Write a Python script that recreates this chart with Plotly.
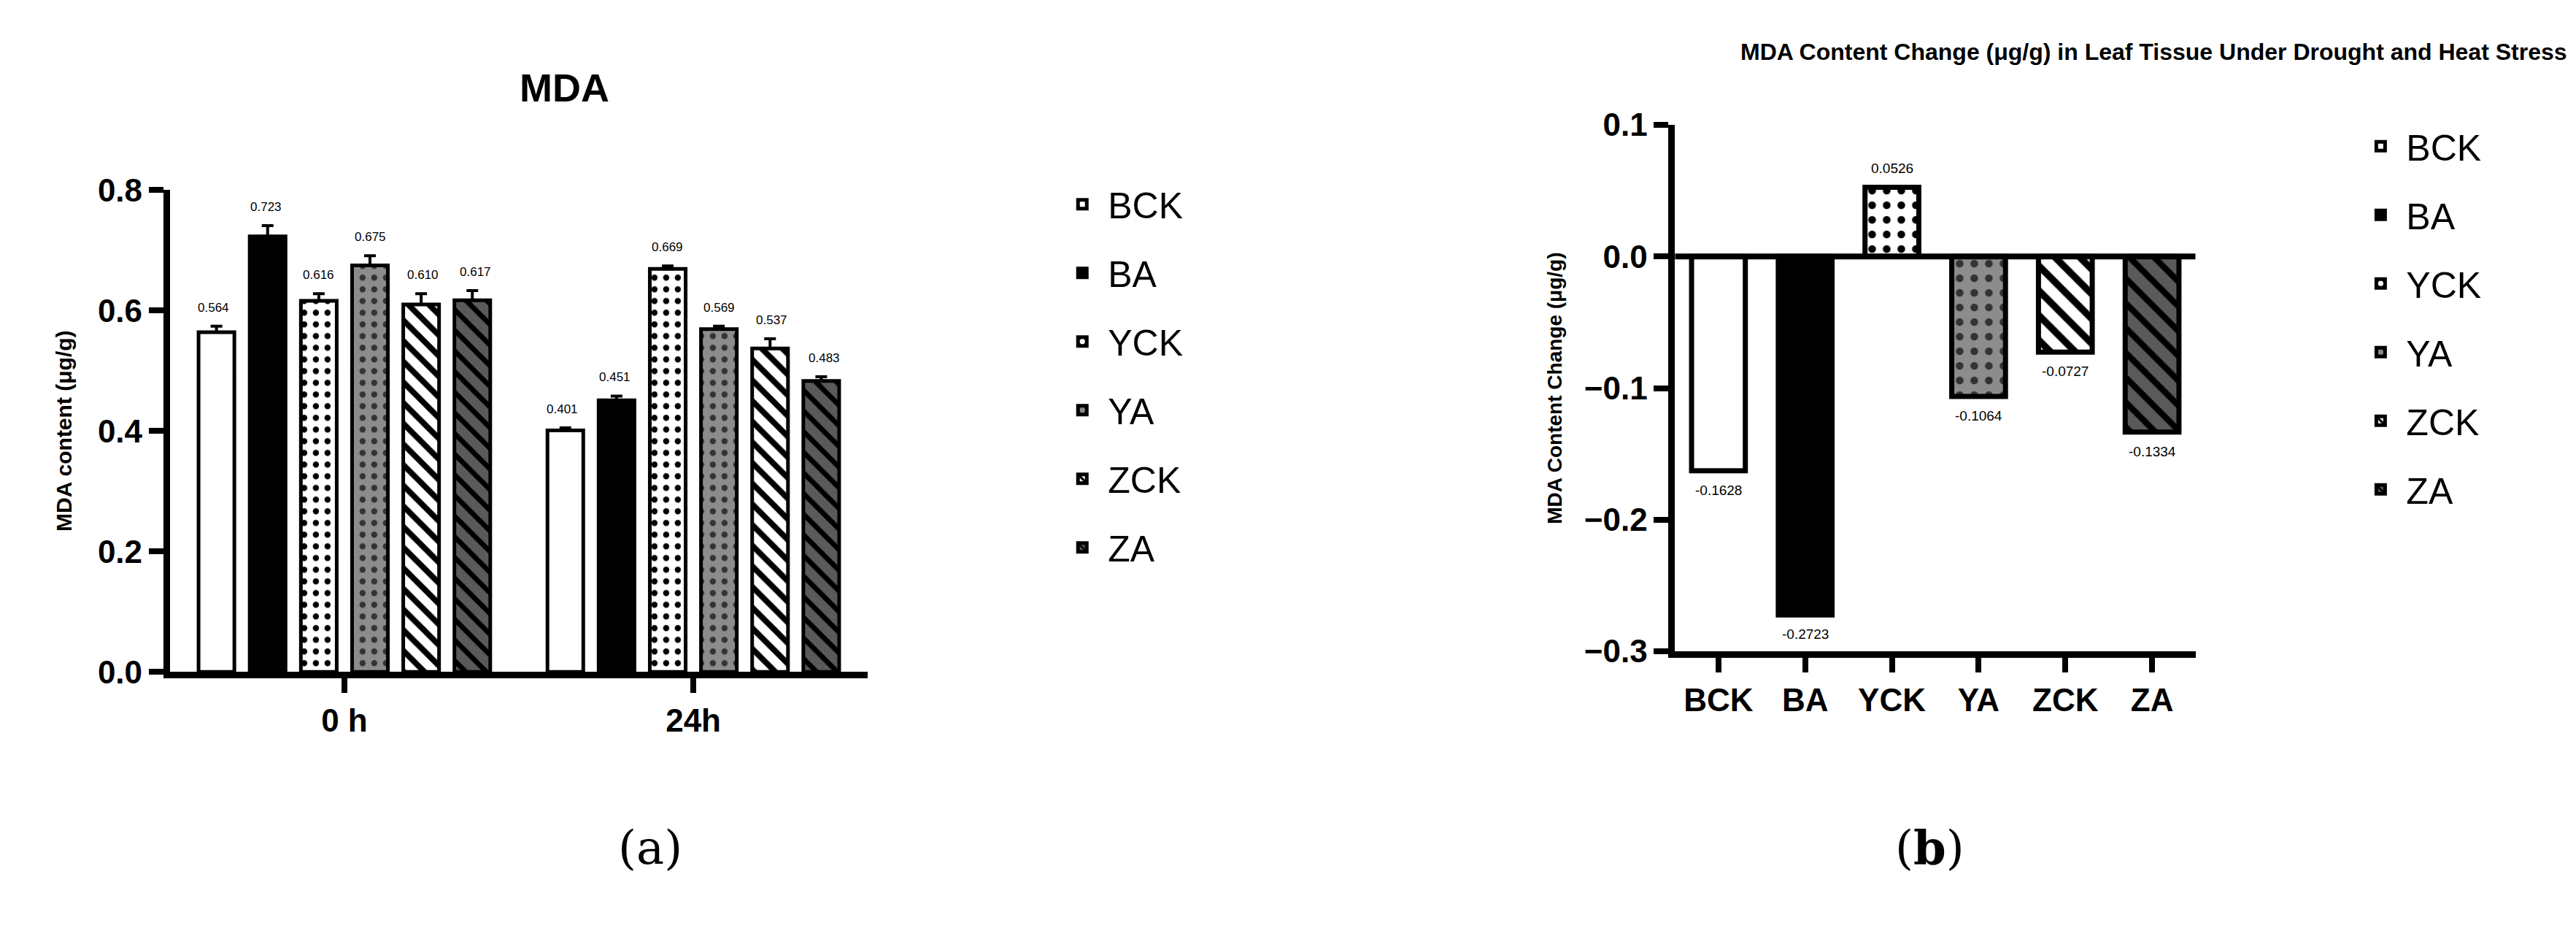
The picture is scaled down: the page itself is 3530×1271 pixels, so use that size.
import plotly.graph_objects as go

groups = ["0 h", "24h"]
series = ["BCK", "BA", "YCK", "YA", "ZCK", "ZA"]
mda = {
    "BCK": [0.564, 0.401],
    "BA": [0.723, 0.451],
    "YCK": [0.616, 0.669],
    "YA": [0.675, 0.569],
    "ZCK": [0.610, 0.537],
    "ZA": [0.617, 0.483],
}
mda_err = {
    "BCK": [0.010, 0.004],
    "BA": [0.018, 0.007],
    "YCK": [0.012, 0.005],
    "YA": [0.016, 0.005],
    "ZCK": [0.018, 0.016],
    "ZA": [0.016, 0.007],
}
change = [-0.1628, -0.2723, 0.0526, -0.1064, -0.0727, -0.1334]

styles = {
    "BCK": dict(color="white", shape="", fg="black", size=16, sol=0.2),
    "BA": dict(color="black", shape="", fg="black", size=16, sol=0.2),
    "YCK": dict(color="white", shape=".", fg="black", size=16, sol=0.22),
    "YA": dict(color="#8c8c8c", shape=".", fg="#333333", size=16, sol=0.22),
    "ZCK": dict(color="white", shape="\\", fg="black", size=20, sol=0.4),
    "ZA": dict(color="#5a5a5a", shape="\\", fg="black", size=20, sol=0.35),
}

FONT = "Liberation Sans, Arial"
fig = go.Figure()

for s in series:
    st = styles[s]
    fig.add_trace(go.Bar(
        x=groups, y=mda[s], name=s, legend="legend", legendgroup="a" + s,
        marker=dict(color=st["color"], line=dict(color="black", width=5),
                    pattern=dict(shape=st["shape"], fgcolor=st["fg"], bgcolor=st["color"],
                                 size=st["size"], solidity=st["sol"], fillmode="replace")),
        error_y=dict(type="data", array=mda_err[s], arrayminus=[0, 0], symmetric=False,
                     color="black", thickness=4, width=8),
        xaxis="x", yaxis="y",
    ))

for i, s in enumerate(series):
    st = styles[s]
    fig.add_trace(go.Bar(
        x=[series[i]], y=[change[i]], name=s, legend="legend2", legendgroup="b" + s,
        marker=dict(color=st["color"], line=dict(color="black", width=7),
                    pattern=dict(shape=st["shape"], fgcolor=st["fg"], bgcolor=st["color"],
                                 size=st["size"] + 4, solidity=st["sol"], fillmode="replace")),
        xaxis="x2", yaxis="y2", width=0.62,
    ))

annotations = []
offsets = [-0.375, -0.225, -0.075, 0.075, 0.225, 0.375]
for j, s in enumerate(series):
    for g in range(2):
        annotations.append(dict(
            x=g + offsets[j], y=mda[s][g] + mda_err[s][g], xref="x", yref="y",
            text=f"{mda[s][g]:.3f}", showarrow=False, yanchor="bottom", yshift=14,
            font=dict(size=17, family=FONT, color="black")))
for i, s in enumerate(series):
    v = change[i]
    annotations.append(dict(
        x=series[i], y=v, xref="x2", yref="y2", text=f"{v:.4f}", showarrow=False,
        yanchor="bottom" if v > 0 else "top", yshift=14 if v > 0 else -14,
        font=dict(size=19, family=FONT, color="black")))

annotations += [
    dict(x=0.199, y=0.955, xref="paper", yref="paper", text="<b>MDA</b>", showarrow=False,
         font=dict(size=54, family="Liberation Sans", color="black")),
    dict(x=0.995, y=0.985, xref="paper", yref="paper", xanchor="right",
         text="<b>MDA Content Change (μg/g) in Leaf Tissue Under Drought and Heat Stress</b>",
         showarrow=False, font=dict(size=32, family=FONT, color="black")),
    dict(x=0.237, y=0.045, xref="paper", yref="paper", text="(a)", showarrow=False,
         font=dict(size=64, family="DejaVu Serif, Liberation Serif", color="black")),
    dict(x=0.761, y=0.045, xref="paper", yref="paper", text="(<b>b</b>)", showarrow=False,
         font=dict(size=64, family="DejaVu Serif, Liberation Serif", color="black")),
]

axis_common = dict(showline=True, linecolor="black", linewidth=9, ticks="outside",
                   tickwidth=8, ticklen=20, tickcolor="black", showgrid=False, zeroline=False,
                   tickfont=dict(size=44, family=FONT, color="black"))

fig.update_layout(
    width=3530, height=1271, plot_bgcolor="white", paper_bgcolor="white",
    margin=dict(l=0, r=0, t=0, b=0),
    barmode="group", bargap=0.12, bargroupgap=0.3,
    annotations=annotations,
    xaxis=dict(domain=[0.0637, 0.3346], anchor="y", **axis_common,
               tickprefix="<b>", ticksuffix="</b>"),
    yaxis=dict(domain=[0.274, 0.814], anchor="x", range=[0, 0.8], dtick=0.2,
               tickformat=".1f", tickprefix="<b>", ticksuffix="</b>", **axis_common,
               title=dict(text="<b>MDA content (μg/g)</b>", standoff=30,
                          font=dict(size=30, family="Liberation Sans", color="black"))),
    xaxis2=dict(domain=[0.648, 0.850], anchor="y2", **axis_common,
                tickprefix="<b>", ticksuffix="</b>"),
    yaxis2=dict(domain=[0.297, 0.887], anchor="x2", range=[-0.3, 0.1], dtick=0.1,
                tickformat=".1f", tickprefix="<b>", ticksuffix="</b>", **axis_common,
                title=dict(text="<b>MDA Content Change (μg/g)</b>", standoff=25,
                           font=dict(size=28, family="Liberation Sans", color="black"))),
    legend=dict(x=0.408, y=0.83, xanchor="left", yanchor="top", tracegroupgap=26,
                itemwidth=60, font=dict(size=50, family=FONT, color="black")),
    legend2=dict(x=0.912, y=0.895, xanchor="left", yanchor="top", tracegroupgap=26,
                 itemwidth=60, font=dict(size=50, family=FONT, color="black")),
)
fig.add_shape(type="line", xref="x2 domain", yref="y2", x0=0, x1=1, y0=0, y1=0,
              line=dict(color="black", width=8))

fig.write_html("out.html")
